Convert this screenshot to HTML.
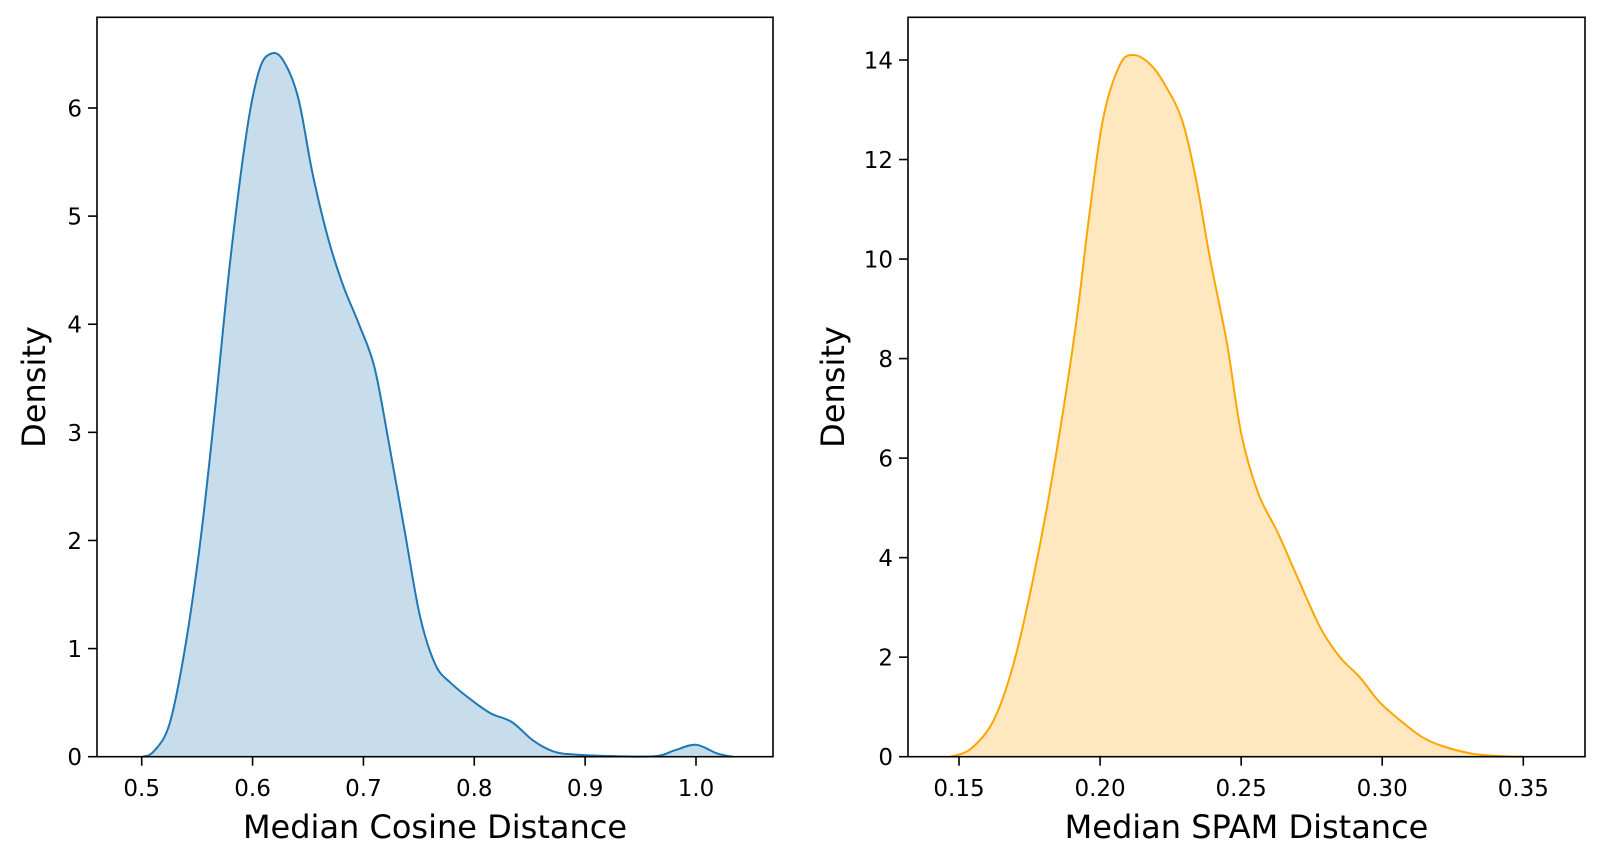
<!DOCTYPE html>
<html><head><meta charset="utf-8"><style>
body{margin:0;background:#fff;font-family:"Liberation Sans","DejaVu Sans",sans-serif}
svg text{font-family:"DejaVu Sans","Liberation Sans",sans-serif;fill:#000}
</style></head><body>
<svg id="c" width="1603" height="863"></svg>
<script>
const cosX=[0.501,0.511,0.525,0.539,0.553,0.566,0.580,0.595,0.606,0.616,0.627,0.641,0.654,0.668,0.682,0.696,0.710,0.723,0.737,0.751,0.765,0.779,0.798,0.815,0.834,0.853,0.871,0.890,0.926,0.964,0.981,1.000,1.019,1.033];
const cosY=[0,0.05,0.3,1.0,2.0,3.2,4.6,5.8,6.35,6.5,6.45,6.1,5.4,4.8,4.35,4.0,3.6,2.9,2.1,1.3,0.85,0.68,0.52,0.4,0.32,0.15,0.05,0.02,0.005,0.005,0.06,0.11,0.03,0];
const spamX=[0.147,0.154,0.162,0.169,0.176,0.183,0.191,0.196,0.201,0.207,0.212,0.218,0.223,0.229,0.234,0.239,0.245,0.25,0.256,0.263,0.27,0.278,0.285,0.292,0.299,0.307,0.314,0.321,0.332,0.343,0.35];
const spamY=[0,0.15,0.7,1.8,3.5,5.6,8.5,10.8,12.8,13.9,14.1,13.9,13.5,12.8,11.6,10.0,8.3,6.5,5.3,4.5,3.6,2.6,2.0,1.6,1.1,0.7,0.4,0.22,0.06,0.01,0];
const cosXTicks=[0.5,0.6,0.7,0.8,0.9,1.0];
const cosYTicks=[0,1,2,3,4,5,6];
const spamXTicks=[0.15,0.20,0.25,0.30,0.35];
const spamYTicks=[0,2,4,6,8,10,12,14];
const NS='http://www.w3.org/2000/svg';
const svg=document.getElementById('c');
function mk(t,a,p){const e=document.createElementNS(NS,t);for(const k in a)e.setAttribute(k,a[k]);(p||svg).appendChild(e);return e;}
function panel(o){
  const g=mk('g',{});
  
  
  const sx=v=>o.x0+(v-o.xa)/(o.xb-o.xa)*(o.x1-o.x0);
  const sy=v=>o.y0-(v/o.ymax)*(o.y0-o.yT);
  const P=o.xs.map((v,i)=>[sx(v),sy(o.ys[i])]);
  let d='M'+P[0][0]+','+P[0][1];
  for(let i=0;i<P.length-1;i++){const p0=P[i-1]||P[i],p1=P[i],p2=P[i+1],p3=P[i+2]||p2;
    d+=' C'+(p1[0]+(p2[0]-p0[0])/6)+','+(p1[1]+(p2[1]-p0[1])/6)+' '+(p2[0]-(p3[0]-p1[0])/6)+','+(p2[1]-(p3[1]-p1[1])/6)+' '+p2[0]+','+p2[1];}
  const f=mk('path',{d:d+' L'+P[P.length-1][0]+','+o.y0+' L'+P[0][0]+','+o.y0+'Z',fill:o.fill,stroke:'none'},g);
  
  
  const l=mk('path',{d:d,fill:'none',stroke:o.color,'stroke-width':2},g);
  
  
  const fr=mk('rect',{x:o.L,y:17.3,width:o.R-o.L,height:o.y0-17.3,fill:'none',stroke:'#000','stroke-width':1.6},g);
  
  
  o.xt.forEach(v=>{const x=sx(v);mk('line',{x1:x,x2:x,y1:o.y0,y2:o.y0+9,stroke:'#000','stroke-width':1.6},g);
    const t=mk('text',{x:x,y:796,'text-anchor':'middle','font-size':23},g);t.textContent=o.xf(v);
    });
  o.yt.forEach(v=>{const y=sy(v);mk('line',{x1:o.L,x2:o.L-9,y1:y,y2:y,stroke:'#000','stroke-width':1.6},g);
    const t=mk('text',{x:o.L-15,y:y+8.5,'text-anchor':'end','font-size':23},g);t.textContent=v;
    });
  const xl=mk('text',{x:(o.L+o.R)/2,y:838,'text-anchor':'middle','font-size':32},g);xl.textContent=o.xlabel;
  
  const yl=mk('text',{x:0,y:0,'text-anchor':'middle','font-size':32,transform:'translate('+o.ylx+',387) rotate(-90)'},g);yl.textContent='Density';
  
}
panel({name:'cosine-panel',xs:cosX,ys:cosY,xa:0.5,xb:1.0,x0:141.7,x1:696,L:97,R:773,y0:756.7,yT:108,ymax:6,ylx:45,
  color:'#1f77b4',fill:'rgba(31,119,180,0.25)',xt:cosXTicks,yt:cosYTicks,xf:v=>v.toFixed(1),xlabel:'Median Cosine Distance'});
panel({name:'spam-panel',xs:spamX,ys:spamY,xa:0.15,xb:0.35,x0:959,x1:1523.3,L:908,R:1585,y0:756.7,yT:60,ymax:14,ylx:844,
  color:'#ffa500',fill:'rgba(255,165,0,0.25)',xt:spamXTicks,yt:spamYTicks,xf:v=>v.toFixed(2),xlabel:'Median SPAM Distance'});
</script>
</body></html>
